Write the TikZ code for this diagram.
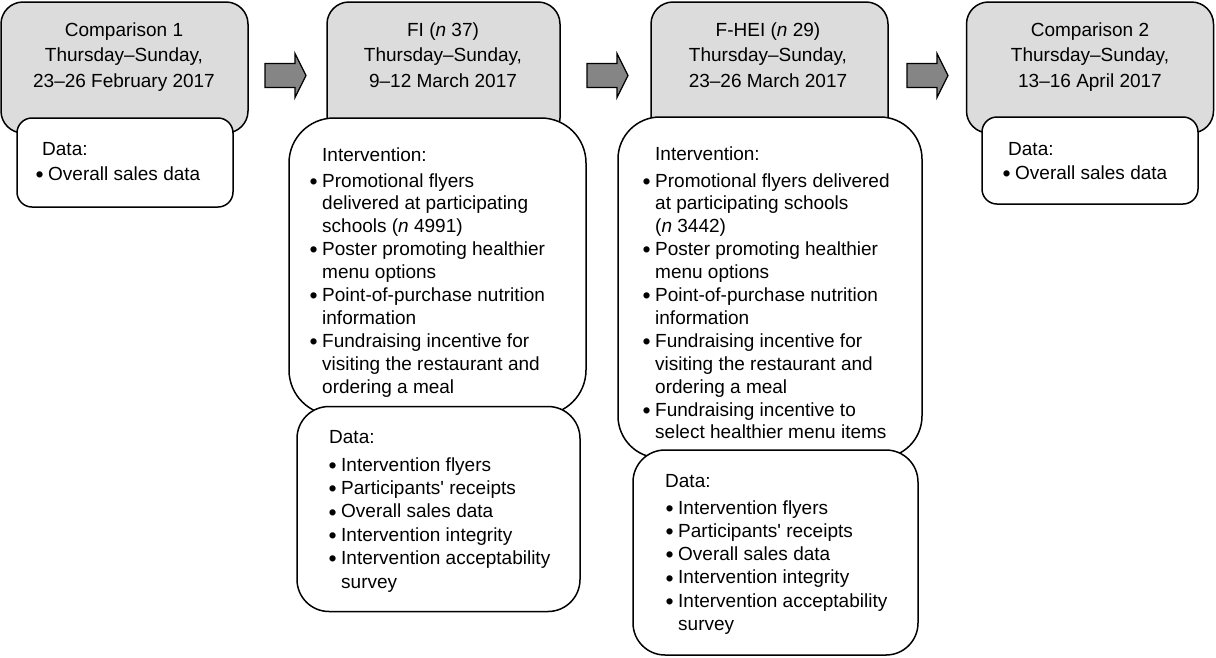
\documentclass[tikz,border=0pt]{standalone}
\usepackage{fontspec}
\setmainfont{Liberation Sans}
\definecolor{boxgray}{HTML}{DCDCDC}
\definecolor{arrgray}{HTML}{858585}
\newcommand\bul{\llap{{\fontsize{23}{23}\selectfont\raisebox{-2.2pt}{•}}\hspace{4.5pt}}}
\newcommand\txtlines[6]{% name, anchor, x, y0, spacing, list
  \foreach \t [count=\i] in {#6} {\node[txt, anchor=#2] (#1-\i) at (#3, {#4+#5*(\i-1)}) {\t};}}
\newcommand\blockarrow[2]{% left end x, middle y
  \draw[blockarr, shift={(#1,#2)}] (0,-12) -- (30,-12) -- (30,-22) -- (41,0) -- (30,22) -- (30,12) -- (0,12) -- cycle;}
\begin{document}
\begin{tikzpicture}[x=1pt, y=-1pt,
  txt/.style={inner sep=0pt, font=\fontsize{19}{23}\selectfont, text=black},
  rbox/.style={draw=black, line width=1.5pt, rounded corners=#1, inner sep=0pt},
  graybox/.style={rbox=22pt, fill=boxgray},
  whitebox/.style={rbox=#1, fill=white},
  blockarr/.style={draw=black, line width=1.3pt, fill=arrgray, line join=miter}]
\useasboundingbox (0,0) rectangle (1216,657);

% gray period boxes
\node[graybox, minimum width=247pt, minimum height=131pt] (g1) at (124.5,67.5) {};
\node[graybox, minimum width=233pt, minimum height=138pt] (g2) at (443.5,71) {};
\node[graybox, minimum width=237pt, minimum height=138pt] (g3) at (769.5,71) {};
\node[graybox, minimum width=247pt, minimum height=131pt] (g4) at (1090,67.5) {};

% block arrows
\blockarrow{265}{75.5}
\blockarrow{587}{75.5}
\blockarrow{907}{75.5}

% white boxes
\node[whitebox=15pt, minimum width=216pt, minimum height=89pt] (d1) at (125,162.5) {};
\node[whitebox=45pt, minimum width=297pt, minimum height=297pt] (i2) at (437.5,266.5) {};
\node[whitebox=32pt, minimum width=283pt, minimum height=205pt] (d2) at (438.5,509) {};
\node[whitebox=42pt, minimum width=304pt, minimum height=341pt] (i3) at (770,287.5) {};
\node[whitebox=32pt, minimum width=285pt, minimum height=205pt] (d3) at (775.5,552.5) {};
\node[whitebox=15pt, minimum width=216pt, minimum height=87pt] (d4) at (1090,160.5) {};

% gray box texts
\txtlines{t1}{base}{124}{36}{25.5}{Comparison 1, {Thursday–Sunday,}, 23–26 February 2017}
\txtlines{t2}{base}{443}{36}{25.5}{FI (\textit{n} 37), {Thursday–Sunday,}, 9–12 March 2017}
\txtlines{t3}{base}{768}{36}{25.5}{F-HEI (\textit{n} 29), {Thursday–Sunday,}, 23–26 March 2017}
\txtlines{t4}{base}{1090}{36}{25.5}{Comparison 2, {Thursday–Sunday,}, 13–16 April 2017}

% box 1 data
\node[txt, anchor=base west] (h1) at (42,155) {Data:};
\txtlines{l1}{base west}{48}{180}{23}{\bul Overall sales data}

% box 2 intervention
\node[txt, anchor=base west] (h2) at (322,161) {Intervention:};
\txtlines{l2}{base west}{322}{187}{22.9}{\bul Promotional flyers, delivered at participating, schools (\textit{n} 4991), \bul Poster promoting healthier, menu options, \bul Point-of-purchase nutrition, information, \bul Fundraising incentive for, visiting the restaurant and, ordering a meal}
\node[txt, anchor=base west] (h2d) at (329,443) {Data:};
\txtlines{m2}{base west}{341}{471}{23.4}{\bul Intervention flyers, \bul Participants\textquotesingle{} receipts, \bul Overall sales data, \bul Intervention integrity, \bul Intervention acceptability, survey}

% box 3 intervention
\node[txt, anchor=base west] (h3) at (655,160) {Intervention:};
\txtlines{l3}{base west}{655}{187}{22.9}{\bul Promotional flyers delivered, at participating schools, (\textit{n} 3442), \bul Poster promoting healthier, menu options, \bul Point-of-purchase nutrition, information, \bul Fundraising incentive for, visiting the restaurant and, ordering a meal, \bul Fundraising incentive to, select healthier menu items}
\node[txt, anchor=base west] (h3d) at (665,487) {Data:};
\txtlines{m3}{base west}{678}{514}{23.3}{\bul Intervention flyers, \bul Participants\textquotesingle{} receipts, \bul Overall sales data, \bul Intervention integrity, \bul Intervention acceptability, survey}

% box 4 data
\node[txt, anchor=base west] (h4) at (1008,155) {Data:};
\txtlines{l4}{base west}{1015}{179}{23}{\bul Overall sales data}
\end{tikzpicture}
\end{document}
